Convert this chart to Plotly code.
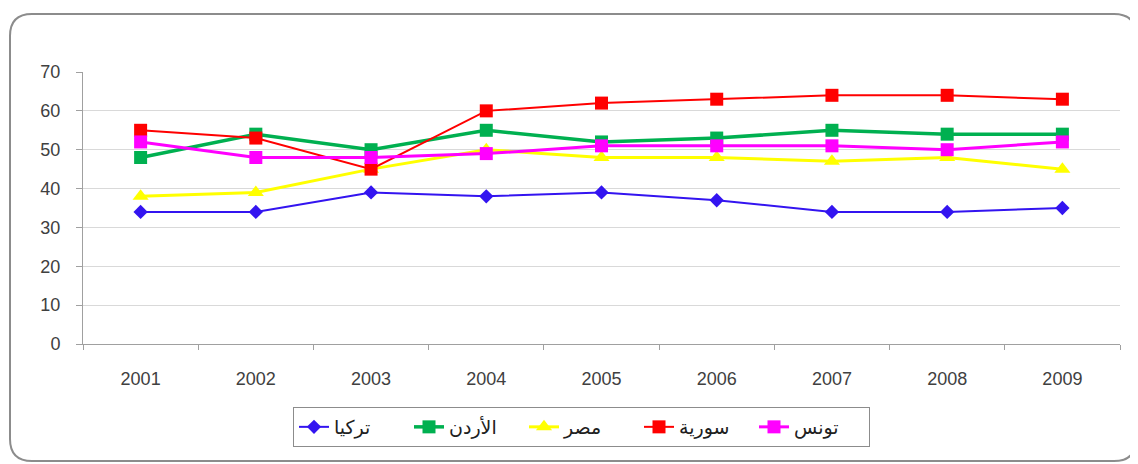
import plotly.graph_objects as go

years = ["2001", "2002", "2003", "2004", "2005", "2006", "2007", "2008", "2009"]
turkey = [34, 34, 39, 38, 39, 37, 34, 34, 35]
jordan = [48, 54, 50, 55, 52, 53, 55, 54, 54]
egypt = [38, 39, 45, 50, 48, 48, 47, 48, 45]
syria = [55, 53, 45, 60, 62, 63, 64, 64, 63]
tunisia = [52, 48, 48, 49, 51, 51, 51, 50, 52]

names = ["تركيا", "الأردن", "مصر", "سورية", "تونس"]

W, H = 1138, 464
OFF = 8  # page body margin shifts the figure
PL, PR, PT, PB = 83, 1120, 72, 344  # target plot area in screen pixels
L, T = PL - OFF, PT - OFF
R = W - (PR - OFF)
B = H - (PB - OFF)
pw, ph = PR - PL, PB - PT

def px(x):
    return (x - PL) / pw

def py(y):
    return (PB - y) / ph

fig = go.Figure()
specs = [
    (turkey, names[0], "#3314F0", "diamond", 2, 11),
    (jordan, names[1], "#00B050", "square", 3.5, 13),
    (egypt, names[2], "#FFFF00", "triangle-up", 3, 14),
    (syria, names[3], "#FF0000", "square", 2, 13),
    (tunisia, names[4], "#FF00FF", "square", 3, 13),
]
for vals, nm, col, sym, lw, ms in specs:
    fig.add_trace(go.Scatter(
        x=years, y=vals, name=nm, mode="lines+markers",
        line=dict(color=col, width=lw),
        marker=dict(symbol=sym, color=col, size=ms, line=dict(width=0)),
    ))

# rounded outer border
x0, x1, y0, y1 = 10, 1136, 14, 461
r = 22
rx, ry = r / pw, r / ph
X0, X1, Y0, Y1 = px(x0), px(x1), py(y1), py(y0)
path = (f"M {X0+rx},{Y1} L {X1-rx},{Y1} Q {X1},{Y1} {X1},{Y1-ry} "
        f"L {X1},{Y0+ry} Q {X1},{Y0} {X1-rx},{Y0} L {X0+rx},{Y0} "
        f"Q {X0},{Y0} {X0},{Y0+ry} L {X0},{Y1-ry} Q {X0},{Y1} {X0+rx},{Y1} Z")
fig.add_shape(type="path", xref="paper", yref="paper", path=path,
              line=dict(color="#8c8c8c", width=2), layer="below")

fig.update_layout(
    width=W, height=H,
    margin=dict(l=L, r=R, t=T, b=B),
    paper_bgcolor="white", plot_bgcolor="white",
    font=dict(family="Liberation Sans, Arial, DejaVu Sans", size=18, color="#404040"),
    showlegend=True,
    legend=dict(
        orientation="h", x=px(293), y=py(407), xanchor="left", yanchor="top",
        bordercolor="#8c8c8c", borderwidth=1, bgcolor="white",
        font=dict(size=19, color="#202020", family="DejaVu Sans"),
        entrywidth=70, entrywidthmode="pixels", traceorder="normal",
    ),
    xaxis=dict(
        type="category", tickson="boundaries", ticks="outside", ticklen=5,
        tickcolor="#a0a0a0", showline=True, linecolor="#a0a0a0", linewidth=1,
        showgrid=False, ticklabelstandoff=18, range=[-0.5, 8.5],
        tickfont=dict(size=18, color="#404040"),
    ),
    yaxis=dict(
        range=[0, 70], dtick=10, ticks="outside", ticklen=6,
        tickcolor="#a0a0a0", showline=True, linecolor="#a0a0a0", linewidth=1,
        showgrid=True, gridcolor="#d9d9d9", gridwidth=1, zeroline=False,
        ticklabelstandoff=12, tickfont=dict(size=18, color="#404040"),
    ),
)

fig.write_html("out.html")
